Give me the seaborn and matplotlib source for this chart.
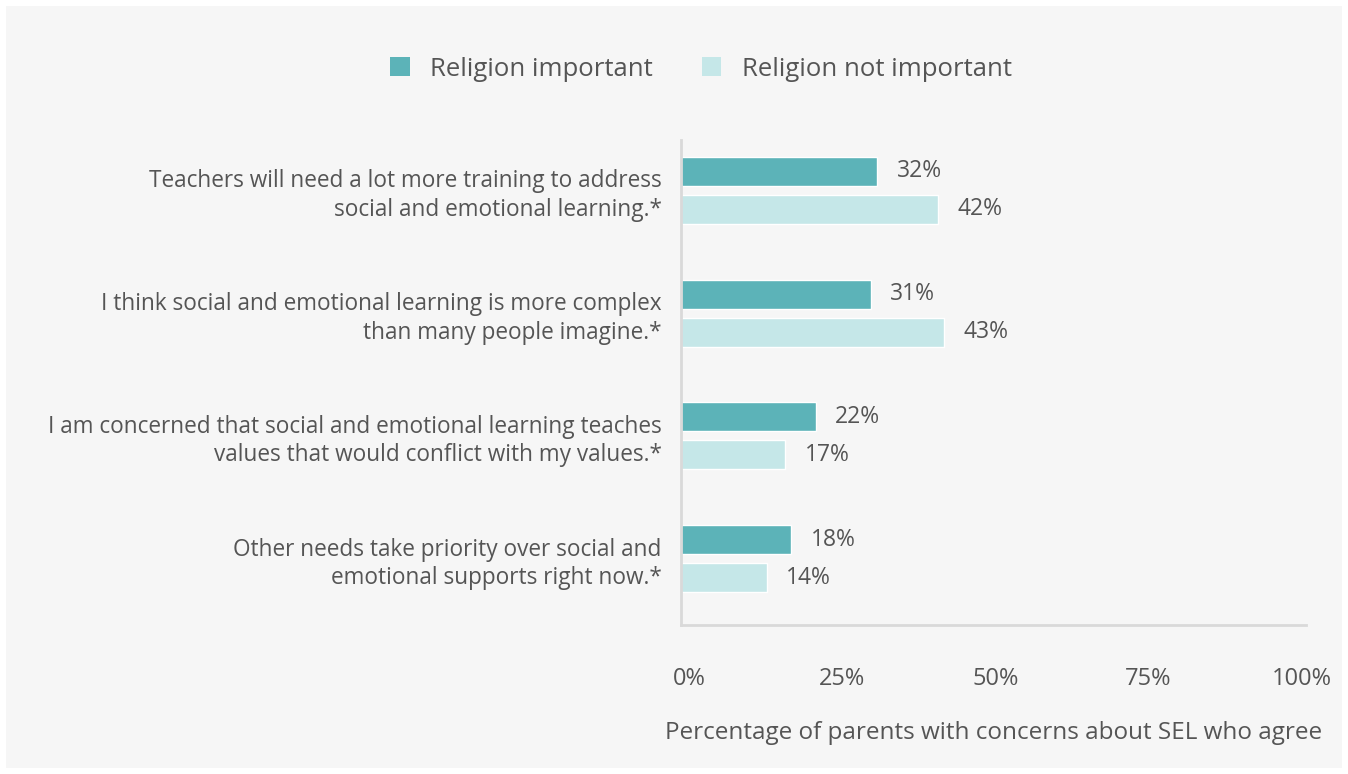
import numpy as np
import pandas as pd
import matplotlib
matplotlib.use("Agg")
import matplotlib.pyplot as plt
import matplotlib.transforms as mtransforms
import seaborn as sns
from matplotlib.patches import Patch

# data
statements = [
    "Teachers will need a lot more training to address\nsocial and emotional learning.*",
    "I think social and emotional learning is more complex\nthan many people imagine.*",
    "I am concerned that social and emotional learning teaches\nvalues that would conflict with my values.*",
    "Other needs take priority over social and\nemotional supports right now.*",
]
groups = ["Religion important", "Religion not important"]
religion_important = [32, 31, 22, 18]
religion_not_important = [42, 43, 17, 14]
x_ticks = [0, 25, 50, 75, 100]
x_label = "Percentage of parents with concerns about SEL who agree"

colors = ["#5cb3b8", "#c5e7e8"]
bg = "#f6f6f6"
text_col = "#555555"

df = pd.DataFrame({
    "statement": statements * 2,
    "group": [groups[0]] * 4 + [groups[1]] * 4,
    "value": religion_important + religion_not_important,
})

sns.set_theme(style="white")
plt.rcParams["font.family"] = ["Open Sans", "DejaVu Sans"]

fig = plt.figure(figsize=(13.48, 7.74), dpi=100)
fig.patch.set_facecolor("white")
# light grey panel behind everything
fig.patches.append(plt.Rectangle((6 / 1348, 6 / 774), 1336 / 1348, 762 / 774,
                                 transform=fig.transFigure, facecolor=bg,
                                 edgecolor="none", zorder=-10))

ax = fig.add_axes([681 / 1348, 1 - 625 / 774, 625 / 1348, 485 / 774])
ax.set_facecolor(bg)

sns.barplot(data=df, y="statement", x="value", hue="group", palette=colors,
            orient="h", width=0.62, gap=0.24, ax=ax, legend=False,
            saturation=1, errorbar=None)

ax.set_xlim(0, 102)
ax.set_ylim(3.54, -0.41)

for cont in ax.containers:
    ax.bar_label(cont, labels=[f"{v:.0f}%" for v in cont.datavalues],
                 padding=14, fontsize=16.5, color=text_col)

ax.set_xticks(x_ticks)
ax.set_xticklabels([f"{t}%" for t in x_ticks], fontsize=17, color=text_col)
ax.tick_params(axis="x", length=0, pad=30)
ax.tick_params(axis="y", length=0, pad=14)
shift = mtransforms.ScaledTranslation(8 / 100, 0, fig.dpi_scale_trans)
for lbl in ax.get_xticklabels():
    lbl.set_transform(lbl.get_transform() + shift)
for lbl in ax.get_yticklabels():
    lbl.set_fontsize(16.3)
    lbl.set_color(text_col)
    lbl.set_linespacing(1.25)
    lbl.set_horizontalalignment("right")
    lbl.set_multialignment("right")

ax.set_ylabel("")
ax.set_xlabel(x_label, fontsize=17.5, color=text_col, labelpad=22)

for s in ["top", "right"]:
    ax.spines[s].set_visible(False)
for s in ["left", "bottom"]:
    ax.spines[s].set_color("#d9d9d9")
    ax.spines[s].set_linewidth(2)

handles = [Patch(facecolor=c, edgecolor="none") for c in colors]
fig.legend(handles, groups, loc="center", bbox_to_anchor=(701 / 1348, 1 - 69 / 774),
           ncol=2, frameon=False, fontsize=18.5, labelcolor=text_col,
           handlelength=0.75, handleheight=0.75, columnspacing=1.9, handletextpad=0.8)

fig.savefig("out.png", dpi=100, facecolor="white")
